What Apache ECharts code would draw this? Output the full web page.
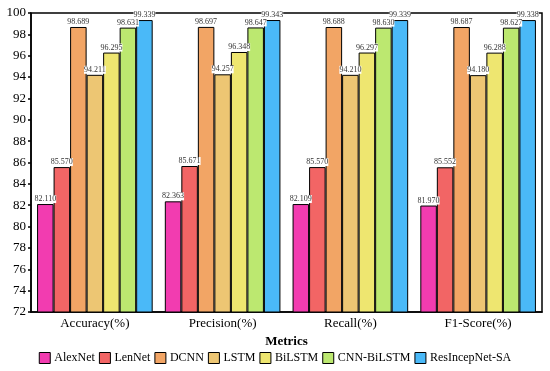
<!DOCTYPE html>
<html><head><meta charset="utf-8">
<script src="https://cdn.jsdelivr.net/npm/echarts@6/dist/echarts.min.js"></script>
<style>html,body{margin:0;padding:0;background:#fff}#c{width:550px;height:371px}</style>
</head><body><div id="c"></div>
<script>
const categories = ['Accuracy(%)', 'Precision(%)', 'Recall(%)', 'F1-Score(%)'];
const seriesNames = ['AlexNet', 'LenNet', 'DCNN', 'LSTM', 'BiLSTM', 'CNN-BiLSTM', 'ResIncepNet-SA'];
const alexnet = [82.110, 82.363, 82.109, 81.970];
const lennet = [85.570, 85.671, 85.570, 85.552];
const dcnn = [98.689, 98.697, 98.688, 98.687];
const lstm = [94.211, 94.257, 94.210, 94.180];
const bilstm = [96.295, 96.348, 96.297, 96.288];
const cnnBilstm = [98.631, 98.647, 98.630, 98.627];
const resIncep = [99.339, 99.343, 99.339, 99.338];
const colors = ['#F23CB0', '#F26565', '#F2A565', '#EDC673', '#EEE670', '#BCE870', '#4AB9F8'];
const allData = [alexnet, lennet, dcnn, lstm, bilstm, cnnBilstm, resIncep];

const font = 'Liberation Serif, Times New Roman, serif';
const chart = echarts.init(document.getElementById('c'));
chart.setOption({
  animation: false,
  color: colors,
  grid: { left: 31, right: 8, top: 13, bottom: 59, show: true, borderColor: '#000', borderWidth: 1.5, backgroundColor: 'transparent' },
  legend: {
    data: seriesNames, bottom: 2, left: 'center', itemWidth: 11, itemHeight: 11, itemGap: 4,
    textStyle: { fontFamily: font, fontSize: 12, color: '#000', padding: [0, 0, 0, -1] },
    icon: 'rect',
    itemStyle: { borderColor: '#000', borderWidth: 1 }
  },
  xAxis: {
    type: 'category', data: categories,
    name: 'Metrics', nameLocation: 'middle', nameGap: 18,
    nameTextStyle: { fontFamily: font, fontSize: 13, fontWeight: 'bold', color: '#000' },
    axisLine: { lineStyle: { color: '#000', width: 1.5 } },
    axisTick: { show: false },
    axisLabel: { fontFamily: font, fontSize: 13, color: '#000', margin: 5 }
  },
  yAxis: {
    type: 'value', min: 72, max: 100, interval: 2,
    axisLine: { show: true, lineStyle: { color: '#000', width: 1.5 } },
    axisTick: { show: true, length: 3, lineStyle: { color: '#000', width: 1.5 } },
    axisLabel: { fontFamily: font, fontSize: 13, color: '#000', margin: 5 },
    splitLine: { show: false }
  },
  series: seriesNames.map((n, i) => ({
    name: n, type: 'bar', data: allData[i],
    barGap: '0%', barCategoryGap: '9.5%',
    itemStyle: { borderColor: '#000', borderWidth: 1, color: colors[i] },
    label: {
      show: true, position: 'top', distance: 1,
      fontFamily: font, fontSize: 8, color: '#333',
      backgroundColor: '#fff', padding: [0, 0],
      formatter: p => p.value.toFixed(3)
    }
  }))
});
</script></body></html>
